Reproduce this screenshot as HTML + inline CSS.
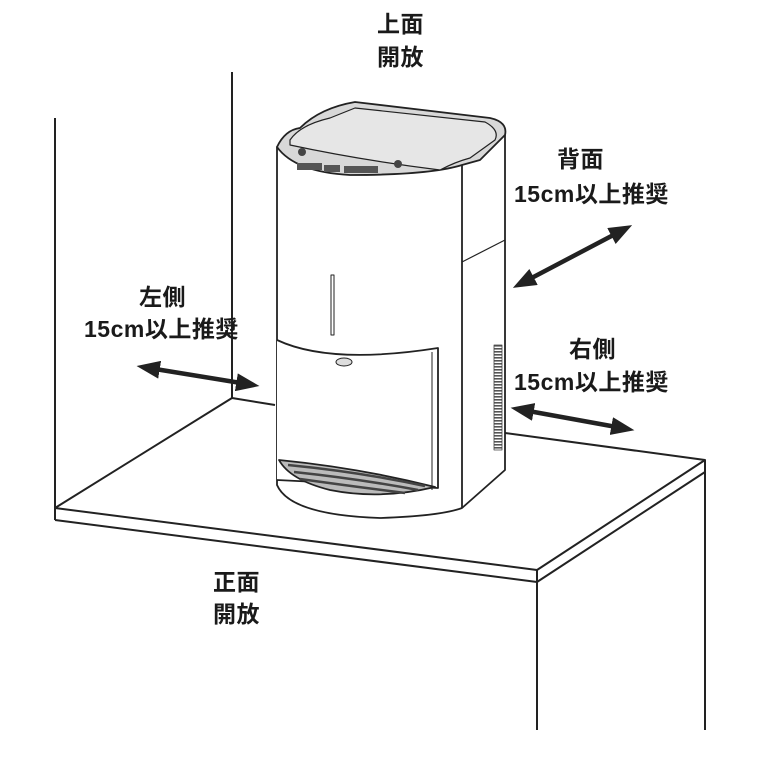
<!DOCTYPE html>
<html><head><meta charset="utf-8"><style>
body{margin:0;background:#fff;width:763px;height:761px;overflow:hidden}
svg{display:block}
text{font-family:"Liberation Sans","Noto Sans CJK JP",sans-serif;font-size:23px;font-weight:bold;fill:#1a1a1a;letter-spacing:0.5px}
</style></head><body>
<svg width="763" height="761" viewBox="0 0 763 761" xmlns="http://www.w3.org/2000/svg">
<defs>
<marker id="ah" markerWidth="5.2" markerHeight="4" refX="2.4" refY="2" orient="auto-start-reverse" markerUnits="strokeWidth"><path d="M0,0 L5.2,2 L0,4 z" fill="#222"/></marker>
<pattern id="vent" width="8" height="3" patternUnits="userSpaceOnUse"><rect width="8" height="3" fill="#fff"/><rect width="8" height="1.6" fill="#555"/></pattern>
</defs>
<g stroke="#222" stroke-width="2" fill="none" stroke-linejoin="round">
<line x1="232" y1="72" x2="232" y2="398"/>
<line x1="55" y1="118" x2="55" y2="520"/>
<polyline points="275,405 232,398 55,508 537,570 705,460 505,433"/>
<polyline points="55,520 537,582 705,472"/>
<line x1="537" y1="570" x2="537" y2="730"/>
<line x1="705" y1="460" x2="705" y2="730"/>
</g>
<g stroke="#222" stroke-width="1.8" stroke-linejoin="round">
<path d="M277,147 L277,485 Q290,515 380,518 Q440,516 462,508 L505,470 L505,135 Z" fill="#fff"/>
<path d="M277,147 Q285,130 300,128 Q320,108 355,102 L490,118 Q508,122 505,135 L480,160 L462,165 Q430,175 350,175 Q295,172 277,147 Z" fill="#d8d8d8"/>
<path d="M290,140 Q300,125 330,118 L355,108 L485,122 Q500,130 495,140 L470,158 Q455,162 440,170 Q360,160 290,145 Z" fill="#e6e6e6" stroke-width="1.2"/>
<line x1="462" y1="165" x2="462" y2="508"/>
<line x1="462" y1="262" x2="505" y2="240" stroke-width="1.2"/>
<rect x="297" y="163" width="25" height="7" fill="#555" stroke="none"/>
<rect x="324" y="165" width="16" height="7" fill="#555" stroke="none"/>
<rect x="344" y="166" width="34" height="7" fill="#555" stroke="none"/>
<circle cx="302" cy="152" r="4" fill="#444" stroke="none"/>
<circle cx="398" cy="164" r="4" fill="#444" stroke="none"/>
<rect x="331" y="275" width="3" height="60" fill="#fff" stroke-width="1"/>
<path d="M277,340 Q330,365 438,348 L438,488 L277,480" fill="#fff"/>
<line x1="432" y1="352" x2="432" y2="490" stroke-width="1"/>
<ellipse cx="344" cy="362" rx="8" ry="4" fill="#ddd" stroke-width="1"/>
<path d="M279,460 Q360,468 435,487 Q380,500 330,490 Q290,480 279,460 Z" fill="#bbb"/>
<path d="M288,465 Q360,472 425,486 M294,472 Q360,479 418,490 M300,479 Q350,486 405,493" stroke="#444" stroke-width="2.5" fill="none"/>
<rect x="494" y="345" width="8" height="105" fill="url(#vent)" stroke="#444" stroke-width="0.8"/>
</g>
<g stroke="#222" stroke-width="4.5" marker-start="url(#ah)" marker-end="url(#ah)">
<line x1="149" y1="368" x2="247" y2="384"/>
<line x1="524" y1="282" x2="621" y2="231"/>
<line x1="523" y1="410" x2="622" y2="428"/>
</g>
<text x="377" y="32">上面</text><text x="377" y="65">開放</text>
<text x="557" y="167">背面</text><text x="514" y="202">15cm以上推奨</text>
<text x="139" y="305">左側</text><text x="84" y="337">15cm以上推奨</text>
<text x="569" y="357">右側</text><text x="514" y="390">15cm以上推奨</text>
<text x="213" y="590">正面</text><text x="213" y="622">開放</text>
</svg>
</body></html>
